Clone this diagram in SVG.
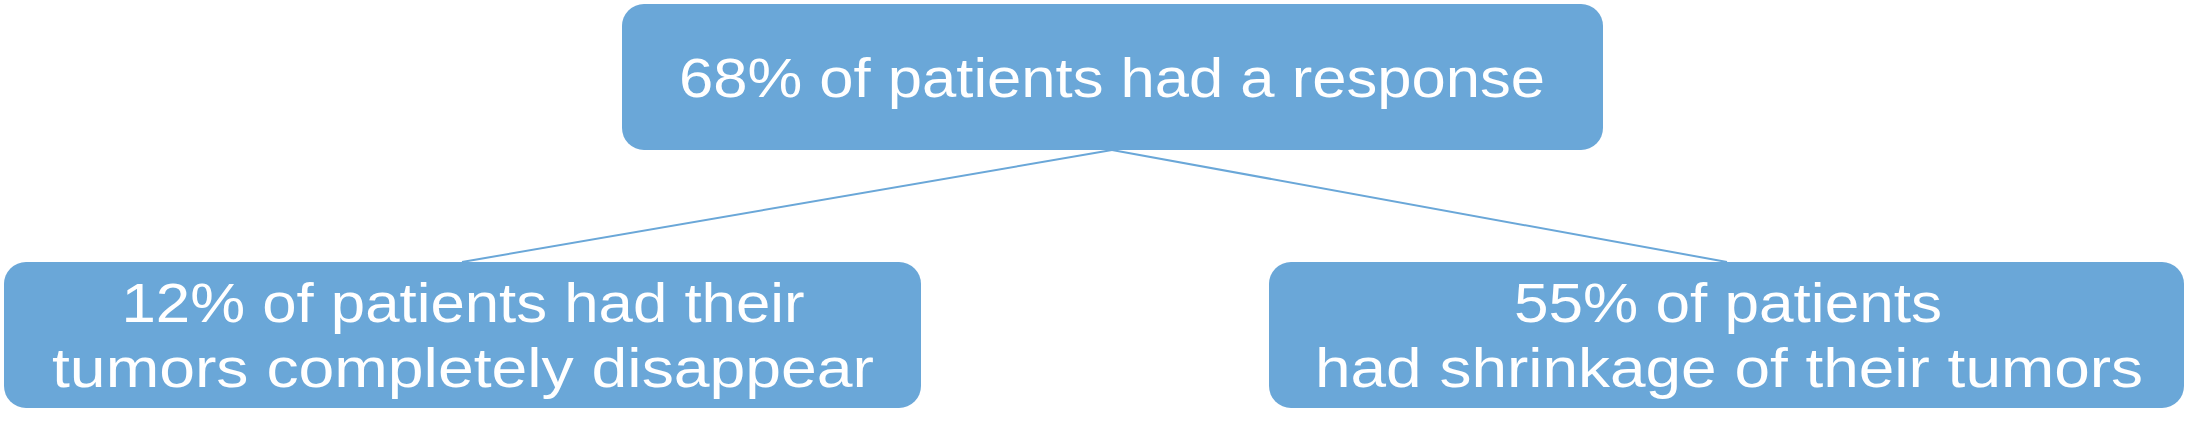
<svg xmlns="http://www.w3.org/2000/svg" width="2186" height="435" viewBox="0 0 2186 435">
<style>
.box{fill:#6AA7D8;}
.lbl{fill:#FFFFFF;font-family:"Liberation Sans",Arial,sans-serif;font-size:56px;text-anchor:middle;}
.con{stroke:#6AA7D8;stroke-width:2;fill:none;}
</style>
<rect width="2186" height="435" fill="#FFFFFF"/>
<g id="connectors">
<line class="con" x1="1112" y1="150" x2="462" y2="262"/>
<line class="con" x1="1112" y1="150" x2="1727" y2="262"/>
</g>
<g id="node-top">
<rect class="box" x="622" y="4" width="981" height="146" rx="22"/>
<text class="lbl" x="1112" y="97" textLength="866" lengthAdjust="spacingAndGlyphs">68% of patients had a response</text>
</g>
<g id="node-left">
<rect class="box" x="4" y="262" width="917" height="146" rx="22"/>
<text class="lbl" x="463" y="322" textLength="683" lengthAdjust="spacingAndGlyphs">12% of patients had their</text>
<text class="lbl" x="463" y="387" textLength="822" lengthAdjust="spacingAndGlyphs">tumors completely disappear</text>
</g>
<g id="node-right">
<rect class="box" x="1269" y="262" width="915" height="146" rx="22"/>
<text class="lbl" x="1728" y="322" textLength="428" lengthAdjust="spacingAndGlyphs">55% of patients</text>
<text class="lbl" x="1729" y="387" textLength="828" lengthAdjust="spacingAndGlyphs">had shrinkage of their tumors</text>
</g>
</svg>
